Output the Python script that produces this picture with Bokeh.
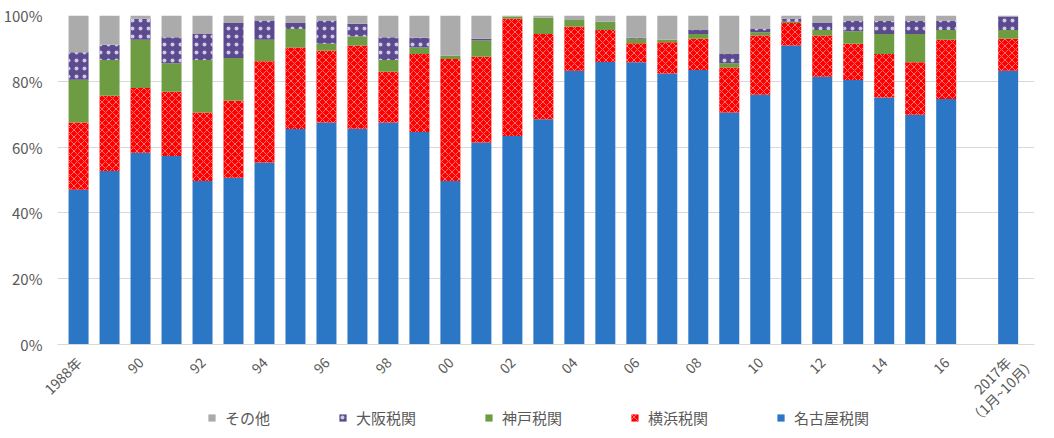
import math
from bokeh.plotting import figure
from bokeh.layouts import column
from bokeh.models import (ColumnDataSource, FixedTicker, PrintfTickFormatter,
                          Legend, LegendItem, Range1d)
from bokeh.transform import stack
from bokeh.embed import file_html
from bokeh.resources import INLINE

# ---------------- data (shares in %) ----------------
categories = ["1988", "1989", "1990", "1991", "1992", "1993", "1994", "1995",
              "1996", "1997", "1998", "1999", "2000", "2001", "2002", "2003",
              "2004", "2005", "2006", "2007", "2008", "2009", "2010", "2011",
              "2012", "2013", "2014", "2015", "2016", "2017"]
nagoya   = [47.0, 52.7, 58.3, 57.3, 49.7, 50.7, 55.3, 65.5, 67.5, 65.6,
            67.5, 64.6, 49.7, 61.4, 63.4, 68.5, 83.2, 85.9, 85.8, 82.4,
            83.4, 70.5, 75.9, 90.9, 81.4, 80.4, 75.1, 69.8, 74.6, 83.2]
yokohama = [20.5, 22.9, 19.7, 19.5, 20.8, 23.4, 30.8, 24.8, 21.8, 25.3,
            15.4, 23.7, 37.1, 26.1, 35.6, 25.9, 13.4, 9.7, 5.8, 9.5,
            9.5, 13.7, 18.0, 6.8, 12.5, 11.0, 13.2, 16.0, 18.0, 9.7]
kobe     = [13.0, 10.9, 14.6, 8.7, 16.0, 13.0, 6.5, 5.6, 2.1, 2.7,
            3.6, 2.0, 1.0, 4.9, 0.7, 4.9, 2.0, 2.5, 1.3, 0.7,
            1.5, 1.3, 1.0, 0.4, 1.7, 3.8, 6.1, 8.6, 3.0, 2.7]
osaka    = [8.3, 4.6, 6.4, 7.9, 7.9, 10.6, 5.9, 1.8, 7.1, 3.9,
            6.9, 2.9, 0.0, 0.5, 0.0, 0.0, 0.0, 0.0, 0.3, 0.0,
            1.2, 2.8, 1.0, 0.9, 2.3, 3.1, 3.9, 3.9, 2.9, 4.1]
other    = [11.2, 8.9, 1.0, 6.6, 5.6, 2.3, 1.5, 2.3, 1.5, 2.5,
            6.6, 6.8, 12.2, 7.1, 0.3, 0.7, 1.4, 1.9, 6.8, 7.4,
            4.4, 11.7, 4.1, 1.0, 2.1, 1.7, 1.7, 1.7, 1.5, 0.3]

tick_labels = {"1988": "1988年", "1990": "90", "1992": "92", "1994": "94",
               "1996": "96", "1998": "98", "2000": "00", "2002": "02",
               "2004": "04", "2006": "06", "2008": "08", "2010": "10",
               "2012": "12", "2014": "14", "2016": "16"}
last_label_lines = ["2017年", "（1月~10月）"]   # two-line label of the last bar

series_names = ["名古屋税関", "横浜税関", "神戸税関", "大阪税関", "その他"]
series_keys = ["nagoya", "yokohama", "kobe", "osaka", "other"]
legend_order = ["other", "osaka", "kobe", "yokohama", "nagoya"]

# positions: one empty slot before the 2017 bar
xpos = [i if c != "2017" else i + 1 for i, c in enumerate(categories)]

src = ColumnDataSource(dict(x=xpos, nagoya=nagoya, yokohama=yokohama,
                            kobe=kobe, osaka=osaka, other=other))

FONT = "Noto Sans CJK JP"
TXT = "#595959"

styles = {
    "nagoya":   dict(fill_color="#2c76c6"),
    "yokohama": dict(fill_color="#ff0000", hatch_pattern="diagonal_cross",
                     hatch_color="white", hatch_alpha=0.45, hatch_scale=7, hatch_weight=1),
    "kobe":     dict(fill_color="#6e9c42"),
    "osaka":    dict(fill_color="#5b4a8f", hatch_pattern="dot",
                     hatch_color="white", hatch_alpha=0.7, hatch_scale=8, hatch_weight=1),
    "other":    dict(fill_color="#ababab"),
}

# ---------------- main chart ----------------
p = figure(frame_width=977, frame_height=329, output_backend="svg",
           toolbar_location=None,
           x_range=Range1d(-0.68, 30.85), y_range=Range1d(0, 100),
           min_border_left=55, min_border_right=22, min_border_top=15,
           min_border_bottom=0)
p.outline_line_color = None
p.background_fill_color = "white"
p.border_fill_color = "white"

for i, key in enumerate(series_keys):
    kw = dict(line_color=None)
    kw.update(styles[key])
    p.vbar(x="x", width=0.645, bottom=stack(*series_keys[:i]),
           top=stack(*series_keys[:i + 1]), source=src, **kw)

# x axis: every other year, plus the two lines of the last label placed side
# by side so that, once rotated, they read as two stacked lines
ticks = [x for x, c in zip(xpos, categories) if c in tick_labels]
overrides = {x: tick_labels[c] for x, c in zip(xpos, categories) if c in tick_labels}
last_x = xpos[categories.index("2017")]
for k, line in enumerate(last_label_lines):
    t = last_x + 0.8 * k
    ticks.append(t)
    overrides[t] = line
p.xaxis.ticker = FixedTicker(ticks=ticks)
p.xaxis.major_label_overrides = overrides
p.xaxis.major_label_orientation = math.pi / 4
p.xaxis.axis_line_color = "#d9d9d9"
p.xaxis.major_tick_line_color = None
p.xaxis.minor_tick_line_color = None
p.xaxis.major_label_text_font = FONT
p.xaxis.major_label_text_font_size = "14px"
p.xaxis.major_label_text_color = TXT
p.xaxis.major_label_standoff = 9

p.yaxis.ticker = FixedTicker(ticks=[0, 20, 40, 60, 80, 100])
p.yaxis.formatter = PrintfTickFormatter(format="%d%%")
p.yaxis.axis_line_color = None
p.yaxis.major_tick_line_color = None
p.yaxis.minor_tick_line_color = None
p.yaxis.major_label_text_font = FONT
p.yaxis.major_label_text_font_size = "15px"
p.yaxis.major_label_text_color = TXT
p.yaxis.major_label_standoff = 9

p.xgrid.grid_line_color = None
p.ygrid.grid_line_color = "#d9d9d9"

# ---------------- legend strip (pulled up over the label area) ----------------
lg = figure(width=1054, height=21, output_backend="svg", toolbar_location=None,
            x_range=Range1d(0, 1), y_range=Range1d(0, 1),
            x_axis_location=None, y_axis_location=None,
            min_border_left=0, min_border_right=0, min_border_top=0,
            min_border_bottom=0, styles={"margin-top": "-30px"})
lg.outline_line_color = None
lg.xgrid.visible = False
lg.ygrid.visible = False
lg.border_fill_alpha = 0
lg.background_fill_alpha = 0

legend_renderers = {}
for i, key in enumerate(series_keys):
    kw = dict(line_color=None)
    kw.update(styles[key])
    legend_renderers[key] = lg.vbar(x="x", width=0.645, bottom=stack(*series_keys[:i]),
                                    top=stack(*series_keys[:i + 1]), source=src,
                                    visible=False, **kw)

items = [LegendItem(label=series_names[series_keys.index(k)], renderers=[legend_renderers[k]])
         for k in legend_order]
legend = Legend(items=items, orientation="horizontal", location=(150, 1),
                glyph_width=9, glyph_height=9, label_standoff=9, spacing=68,
                padding=0, margin=0, border_line_color=None,
                background_fill_alpha=0, inactive_fill_alpha=0,
                label_text_font=FONT, label_text_font_size="15px",
                label_text_color=TXT)
lg.add_layout(legend, "center")

layout = column(p, lg, spacing=0)
open("out.html", "w").write(file_html(layout, INLINE))
